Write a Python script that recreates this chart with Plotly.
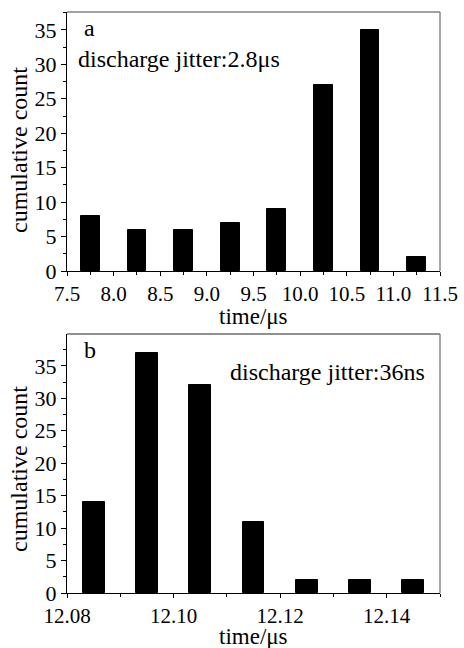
import plotly.graph_objects as go

# Panel a data
times_a = [7.75, 8.25, 8.75, 9.25, 9.75, 10.25, 10.75, 11.25]
counts_a = [8, 6, 6, 7, 9, 27, 35, 2]
# Panel b data
times_b = [12.085, 12.095, 12.105, 12.115, 12.125, 12.135, 12.145]
counts_b = [14, 37, 32, 11, 2, 2, 2]

x_title = "time/μs"
y_title = "cumulative count"

FONT = "Liberation Serif"
W, H = 464, 648

def px_x(a, b):
    return [a / W, b / W]

def px_y(top, bottom):
    return [(H - bottom) / H, (H - top) / H]

fig = go.Figure()
fig.add_trace(go.Bar(x=times_a, y=counts_a, width=0.2, marker=dict(color="black", line=dict(color="black", width=1)),
                     xaxis="x", yaxis="y", showlegend=False))
fig.add_trace(go.Bar(x=times_b, y=counts_b, width=0.0041, marker=dict(color="black", line=dict(color="black", width=1)),
                     xaxis="x2", yaxis="y2", showlegend=False))

xtickfont = dict(family=FONT, size=21, color="black")
ytickfont = dict(family=FONT, size=22, color="black")
titlefont = dict(family=FONT, size=23, color="black")

common_x = dict(showgrid=False, zeroline=False, showline=True, linecolor="black", linewidth=1,
                ticks="outside", ticklen=4, tickcolor="black", tickfont=xtickfont, mirror=False,
                tickangle=0, automargin=False)
common_y = dict(showgrid=False, zeroline=False, showline=True, linecolor="black", linewidth=1,
                ticks="outside", ticklen=5, tickcolor="black", tickfont=ytickfont, mirror=False,
                automargin=False)

fig.update_layout(
    width=W, height=H, margin=dict(l=0, r=0, t=0, b=0, autoexpand=False),
    paper_bgcolor="white", plot_bgcolor="white",
    font=dict(family=FONT, color="black"),
    bargap=0,
    xaxis=dict(domain=px_x(67, 440), range=[7.5, 11.5], tickmode="linear", tick0=7.5, dtick=0.5,
               tickformat=".1f", anchor="y",
               minor=dict(dtick=0.25, tick0=7.5, ticks="outside", ticklen=3, tickcolor="black"),
               **common_x),
    yaxis=dict(domain=px_y(12, 271), range=[0, 37.6], tickmode="linear", tick0=0, dtick=5, anchor="x",
               minor=dict(dtick=2.5, tick0=0, ticks="outside", ticklen=3, tickcolor="black"),
               **common_y),
    xaxis2=dict(domain=px_x(67, 440), range=[12.08, 12.15], tickmode="linear", tick0=12.08, dtick=0.02,
                tickformat=".2f", anchor="y2",
                minor=dict(dtick=0.01, tick0=12.08, ticks="outside", ticklen=3, tickcolor="black"),
                **common_x),
    yaxis2=dict(domain=px_y(334, 593), range=[0, 39.9], tickmode="linear", tick0=0, dtick=5, anchor="x2",
                minor=dict(dtick=2.5, tick0=0, ticks="outside", ticklen=3, tickcolor="black"),
                **common_y),
)

# frame lines (top and right)
for xr, yr, topc in (("x", "y", "#444"), ("x2", "y2", "#222")):
    fig.add_shape(type="line", xref=f"{xr} domain", yref=f"{yr} domain", x0=0, x1=1, y0=1, y1=1,
                  line=dict(color=topc, width=1))
    fig.add_shape(type="line", xref=f"{xr} domain", yref=f"{yr} domain", x0=1, x1=1, y0=0, y1=1,
                  line=dict(color="#888", width=1.5))

# axis titles
xc = (67 + 440) / 2 / W
for yc in (317, 636):
    fig.add_annotation(text=x_title, xref="paper", yref="paper", x=xc, y=(H - yc) / H,
                       xanchor="center", yanchor="middle", showarrow=False, font=titlefont)
for yc in (150, 469):
    fig.add_annotation(text=y_title, xref="paper", yref="paper", x=19 / W, y=(H - yc) / H, textangle=-90,
                       xanchor="center", yanchor="middle", showarrow=False, font=dict(family=FONT, size=24, color="black"))

annfont = dict(family=FONT, size=24, color="black")
fig.add_annotation(text="a", xref="x domain", yref="y domain", x=0.04, y=0.995, xanchor="left", yanchor="top",
                   showarrow=False, font=annfont)
fig.add_annotation(text="discharge jitter:2.8μs", xref="x domain", yref="y domain", x=0.025, y=0.82,
                   xanchor="left", yanchor="middle", showarrow=False, font=annfont)
fig.add_annotation(text="b", xref="x2 domain", yref="y2 domain", x=0.04, y=0.995, xanchor="left", yanchor="top",
                   showarrow=False, font=annfont)
fig.add_annotation(text="discharge jitter:36ns", xref="x2 domain", yref="y2 domain", x=0.965, y=0.853,
                   xanchor="right", yanchor="middle", showarrow=False, font=annfont)

fig.write_html("out.html")
